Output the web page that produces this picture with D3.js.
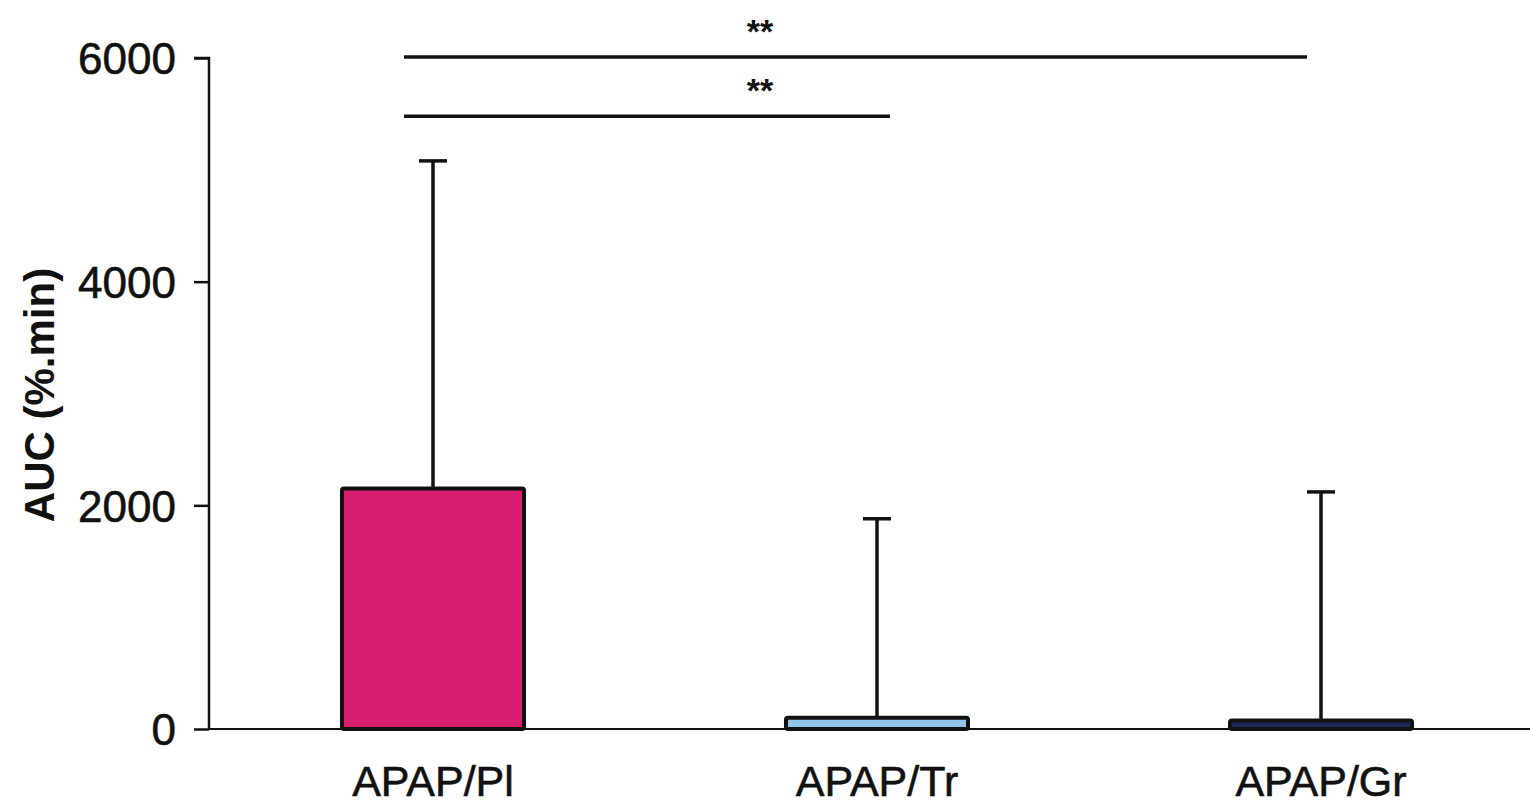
<!DOCTYPE html>
<html>
<head>
<meta charset="utf-8">
<script src="https://cdn.jsdelivr.net/npm/d3@7"></script>
<style>
  body { margin: 0; background: #fff; }
  svg { display: block; font-family: Arial, "Liberation Sans", sans-serif; }
</style>
</head>
<body>
<svg width="1530" height="807"></svg>
<script>
// data
const groups = ["APAP/Pl", "APAP/Tr", "APAP/Gr"];
const means = [2150, 100, 75];
const errTops = [5080, 1880, 2120];
const fills = ["#d81f6f", "#8fc6ea", "#1d2753"];
const yTicks = [0, 2000, 4000, 6000];
// significance brackets
const sigFrom = ["APAP/Pl", "APAP/Pl"];
const sigTo = ["APAP/Gr", "APAP/Tr"];
const sigLevel = [6010, 5480];
const sigLabel = ["**", "**"];

const svg = d3.select("svg");
const plotLeft = 209, plotBottom = 729, plotTop = 58;

const y = d3.scaleLinear().domain([0, 6000]).range([plotBottom, plotTop]);
const x = d3.scalePoint().domain(groups).range([211, 1543]).padding(0.5);
const barW = x.step() * 0.41;

// y axis
const yAxis = svg.append("g")
    .attr("transform", `translate(${plotLeft},0)`)
    .call(d3.axisLeft(y).tickValues(yTicks).tickSize(15).tickPadding(18).tickFormat(d3.format("d")));
yAxis.select(".domain").attr("stroke", "#111").attr("stroke-width", 2.5).attr("d", `M-15,${plotTop}H0V${plotBottom}`);
yAxis.selectAll(".tick line").attr("stroke", "#111").attr("stroke-width", 2.5);
yAxis.selectAll(".tick text")
    .attr("font-size", 44).attr("fill", "#111").attr("dy", "0.36em")
    .attr("stroke", "#111").attr("stroke-width", 0.6);

// x axis baseline
svg.append("line")
    .attr("x1", plotLeft).attr("x2", 1530)
    .attr("y1", y(0)).attr("y2", y(0))
    .attr("stroke", "#111").attr("stroke-width", 2);

// error bars
const eb = svg.append("g").attr("stroke", "#111").attr("stroke-width", 3.5);
groups.forEach((g, i) => {
    eb.append("line").attr("x1", x(g)).attr("x2", x(g)).attr("y1", y(means[i])).attr("y2", y(errTops[i]));
    eb.append("line").attr("x1", x(g) - 14).attr("x2", x(g) + 14).attr("y1", y(errTops[i])).attr("y2", y(errTops[i]));
});

// bars
svg.append("g").selectAll("rect")
    .data(groups)
    .join("rect")
    .attr("x", d => x(d) - barW / 2)
    .attr("width", barW)
    .attr("y", (d, i) => y(means[i]))
    .attr("height", (d, i) => y(0) - y(means[i]))
    .attr("fill", (d, i) => fills[i])
    .attr("stroke", "#111")
    .attr("stroke-width", 4)
    .attr("rx", 2);

// category labels
svg.append("g").selectAll("text")
    .data(groups)
    .join("text")
    .attr("x", d => x(d))
    .attr("y", 796)
    .attr("text-anchor", "middle")
    .attr("font-size", 43)
    .attr("fill", "#111")
    .attr("stroke", "#111").attr("stroke-width", 0.6)
    .text(d => d);

// y label
svg.append("text")
    .attr("transform", `translate(54,395) rotate(-90)`)
    .attr("text-anchor", "middle")
    .attr("font-size", 42)
    .attr("font-weight", "bold")
    .attr("fill", "#111")
    .text("AUC (%.min)");

// significance lines
const sig = svg.append("g");
const starX = x(groups[0]) + 327;
sigFrom.forEach((f, i) => {
    const x1 = x(f) - 29;
    const x2 = sigTo[i] === "APAP/Gr" ? x(sigTo[i]) - 14 : x(sigTo[i]) + 13;
    sig.append("line")
        .attr("x1", x1).attr("x2", x2)
        .attr("y1", y(sigLevel[i])).attr("y2", y(sigLevel[i]))
        .attr("stroke", "#111").attr("stroke-width", 3.5);
    sig.append("text")
        .attr("x", starX)
        .attr("y", y(sigLevel[i]) - 14)
        .attr("text-anchor", "middle")
        .attr("font-size", 34)
        .attr("font-weight", "bold")
        .attr("fill", "#111")
        .text(sigLabel[i]);
});
</script>
</body>
</html>
